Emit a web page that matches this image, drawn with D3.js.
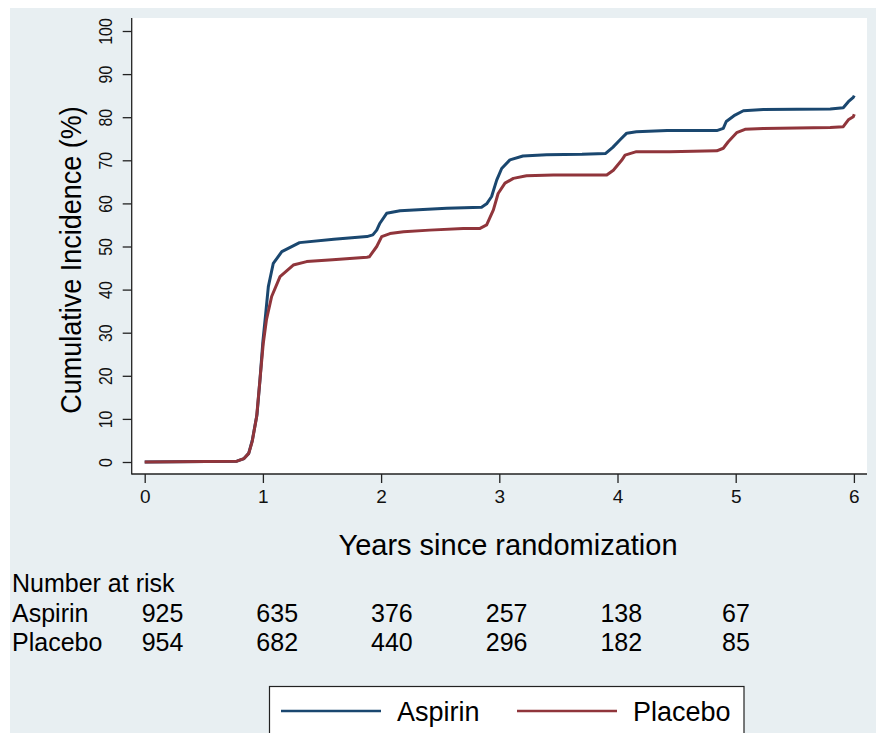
<!DOCTYPE html>
<html>
<head>
<meta charset="utf-8">
<script src="https://cdn.jsdelivr.net/npm/d3@7"></script>
<style>
  body { margin: 0; background: #fff; }
  svg { display: block; font-family: "Liberation Sans", Arial, sans-serif; }
</style>
</head>
<body>
<div id="chart"></div>
<script>
// Cumulative incidence (%), by years since randomization
const aspirinTime = [0, 0.78, 0.84, 0.88, 0.91, 0.95, 0.975, 1.0, 1.024, 1.046, 1.088, 1.16, 1.31, 1.6, 1.88, 1.93, 1.963, 1.99, 2.047, 2.16, 2.355, 2.555, 2.85, 2.893, 2.935, 2.978, 3.02, 3.09, 3.2, 3.4, 3.7, 3.9, 3.96, 4.02, 4.078, 4.16, 4.42, 4.84, 4.895, 4.92, 4.994, 5.065, 5.234, 5.8, 5.91, 5.953, 5.995, 6.003];
const aspirinCI   = [0, 0.2, 0.8, 2, 5, 11, 19, 28, 34.5, 40.7, 46.1, 48.8, 50.9, 51.7, 52.3, 52.7, 53.8, 55.4, 57.7, 58.3, 58.6, 58.9, 59.1, 59.9, 61.6, 65.4, 68.1, 70.1, 71.0, 71.3, 71.4, 71.6, 73.0, 74.7, 76.3, 76.6, 76.9, 76.9, 77.4, 79, 80.5, 81.5, 81.8, 81.9, 82.2, 83.6, 84.6, 85];

const placeboTime = [0, 0.78, 0.84, 0.88, 0.91, 0.947, 0.975, 1.003, 1.03, 1.074, 1.145, 1.257, 1.37, 1.59, 1.88, 1.9, 1.963, 2.005, 2.075, 2.19, 2.41, 2.695, 2.837, 2.893, 2.95, 2.99, 3.048, 3.119, 3.23, 3.457, 3.909, 3.965, 4.035, 4.064, 4.16, 4.44, 4.84, 4.895, 4.937, 5.008, 5.079, 5.234, 5.8, 5.91, 5.953, 5.995, 6.003];
const placeboCI   = [0, 0.2, 0.8, 2, 4.8, 10.5, 19, 27.5, 33, 38.4, 43, 45.7, 46.5, 46.9, 47.5, 47.6, 50, 52.3, 53, 53.4, 53.8, 54.2, 54.2, 55, 58.5, 62.3, 64.7, 65.8, 66.4, 66.6, 66.6, 67.7, 70, 71.2, 72, 72, 72.2, 72.8, 74.3, 76.4, 77.2, 77.4, 77.6, 77.8, 79.4, 80.1, 80.7];

const xTicks = [0, 1, 2, 3, 4, 5, 6];
const yTicks = [0, 10, 20, 30, 40, 50, 60, 70, 80, 90, 100];

const riskYears   = [0, 1, 2, 3, 4, 5];
const riskAspirin = [925, 635, 376, 257, 138, 67];
const riskPlacebo = [954, 682, 440, 296, 182, 85];

const seriesNames  = ['Aspirin', 'Placebo'];
const seriesColors = ['#1a476f', '#90353b'];

const svgWidth = 876;
const svgHeight = 733;
const plot = { left: 131.7, top: 18, right: 867, bottom: 474 };

const svg = d3.select('#chart')
    .append('svg')
    .attr('width', svgWidth)
    .attr('height', svgHeight);

// graph region background
svg.append('rect')
    .attr('x', 10).attr('y', 8)
    .attr('width', svgWidth - 10).attr('height', svgHeight - 8)
    .attr('fill', '#e8eff2');

svg.append('rect')
    .attr('x', plot.left).attr('y', plot.top)
    .attr('width', plot.right - plot.left).attr('height', plot.bottom - plot.top)
    .attr('fill', '#fff');

const xScale = d3.scaleLinear().domain([0, 6]).range([144.7, 853.9]);
const yScale = d3.scaleLinear().domain([0, 100]).range([462, 31]);

// y axis
const yAxis = svg.append('g')
    .attr('transform', `translate(${plot.left},0)`)
    .call(d3.axisLeft(yScale).tickValues(yTicks).tickFormat(d3.format('d')).tickSize(9).tickSizeOuter(0));
yAxis.select('.domain').remove();
yAxis.selectAll('line').attr('stroke', '#222').attr('stroke-width', 1.3);
yAxis.selectAll('text')
    .attr('x', null).attr('dy', null)
    .attr('text-anchor', 'middle')
    .attr('transform', 'translate(-19.5,0) rotate(-90) scale(0.88,1)')
    .style('font-size', '18px')
    .attr('fill', '#111');

// x axis
const xAxis = svg.append('g')
    .attr('transform', `translate(0,${plot.bottom})`)
    .call(d3.axisBottom(xScale).tickValues(xTicks).tickFormat(d3.format('d')).tickSize(9).tickSizeOuter(0));
xAxis.select('.domain').remove();
xAxis.selectAll('line').attr('stroke', '#222').attr('stroke-width', 1.3);
xAxis.selectAll('text')
    .attr('y', 29).attr('dy', null)
    .style('font-size', '19px')
    .attr('fill', '#111');

svg.append('line')
    .attr('x1', plot.left).attr('x2', plot.left)
    .attr('y1', plot.top).attr('y2', plot.bottom + 0.6)
    .attr('stroke', '#222').attr('stroke-width', 1.3);
svg.append('line')
    .attr('x1', plot.left).attr('x2', plot.right)
    .attr('y1', plot.bottom).attr('y2', plot.bottom)
    .attr('stroke', '#222').attr('stroke-width', 1.3);

// axis titles
svg.append('text')
    .attr('transform', 'translate(81,260) rotate(-90) scale(0.93,1)')
    .attr('text-anchor', 'middle')
    .style('font-size', '29px')
    .text('Cumulative Incidence (%)');

svg.append('text')
    .attr('x', 508).attr('y', 555)
    .attr('text-anchor', 'middle')
    .style('font-size', '29px')
    .text('Years since randomization');

// curves
const line = d3.line()
    .x(d => xScale(d[0]))
    .y(d => yScale(d[1]));

const series = [
    d3.zip(aspirinTime, aspirinCI),
    d3.zip(placeboTime, placeboCI)
];

svg.selectAll('path.curve')
    .data(series)
    .enter()
    .append('path')
    .attr('class', 'curve')
    .attr('d', line)
    .attr('fill', 'none')
    .attr('stroke', (d, i) => seriesColors[i])
    .attr('stroke-width', 3)
    .attr('stroke-linejoin', 'round');

// number at risk table
const riskX = d3.scaleLinear().domain([0, 5]).range([162.5, 736]);

svg.append('text')
    .attr('x', 12).attr('y', 592)
    .style('font-size', '25px')
    .text('Number at risk');

[riskAspirin, riskPlacebo].forEach((counts, i) => {
    const yy = 621.5 + i * 29.5;
    svg.append('text')
        .attr('x', 12).attr('y', yy)
        .style('font-size', '25px')
        .text(seriesNames[i]);
    svg.selectAll(null)
        .data(counts)
        .enter()
        .append('text')
        .attr('x', (d, j) => riskX(riskYears[j]))
        .attr('y', yy)
        .attr('text-anchor', 'middle')
        .style('font-size', '25px')
        .text(d => d);
});

// legend
const legend = svg.append('g');
legend.append('rect')
    .attr('x', 269.5).attr('y', 686.5)
    .attr('width', 474.5).attr('height', 70)
    .attr('fill', '#fff')
    .attr('stroke', '#222').attr('stroke-width', 1.2);

const legendX = [281, 517];
seriesNames.forEach((name, i) => {
    legend.append('line')
        .attr('x1', legendX[i]).attr('x2', legendX[i] + 100)
        .attr('y1', 711).attr('y2', 711)
        .attr('stroke', seriesColors[i]).attr('stroke-width', 2.5);
    legend.append('text')
        .attr('x', legendX[i] + 116).attr('y', 721)
        .style('font-size', '27px')
        .text(name);
});
</script>
</body>
</html>
